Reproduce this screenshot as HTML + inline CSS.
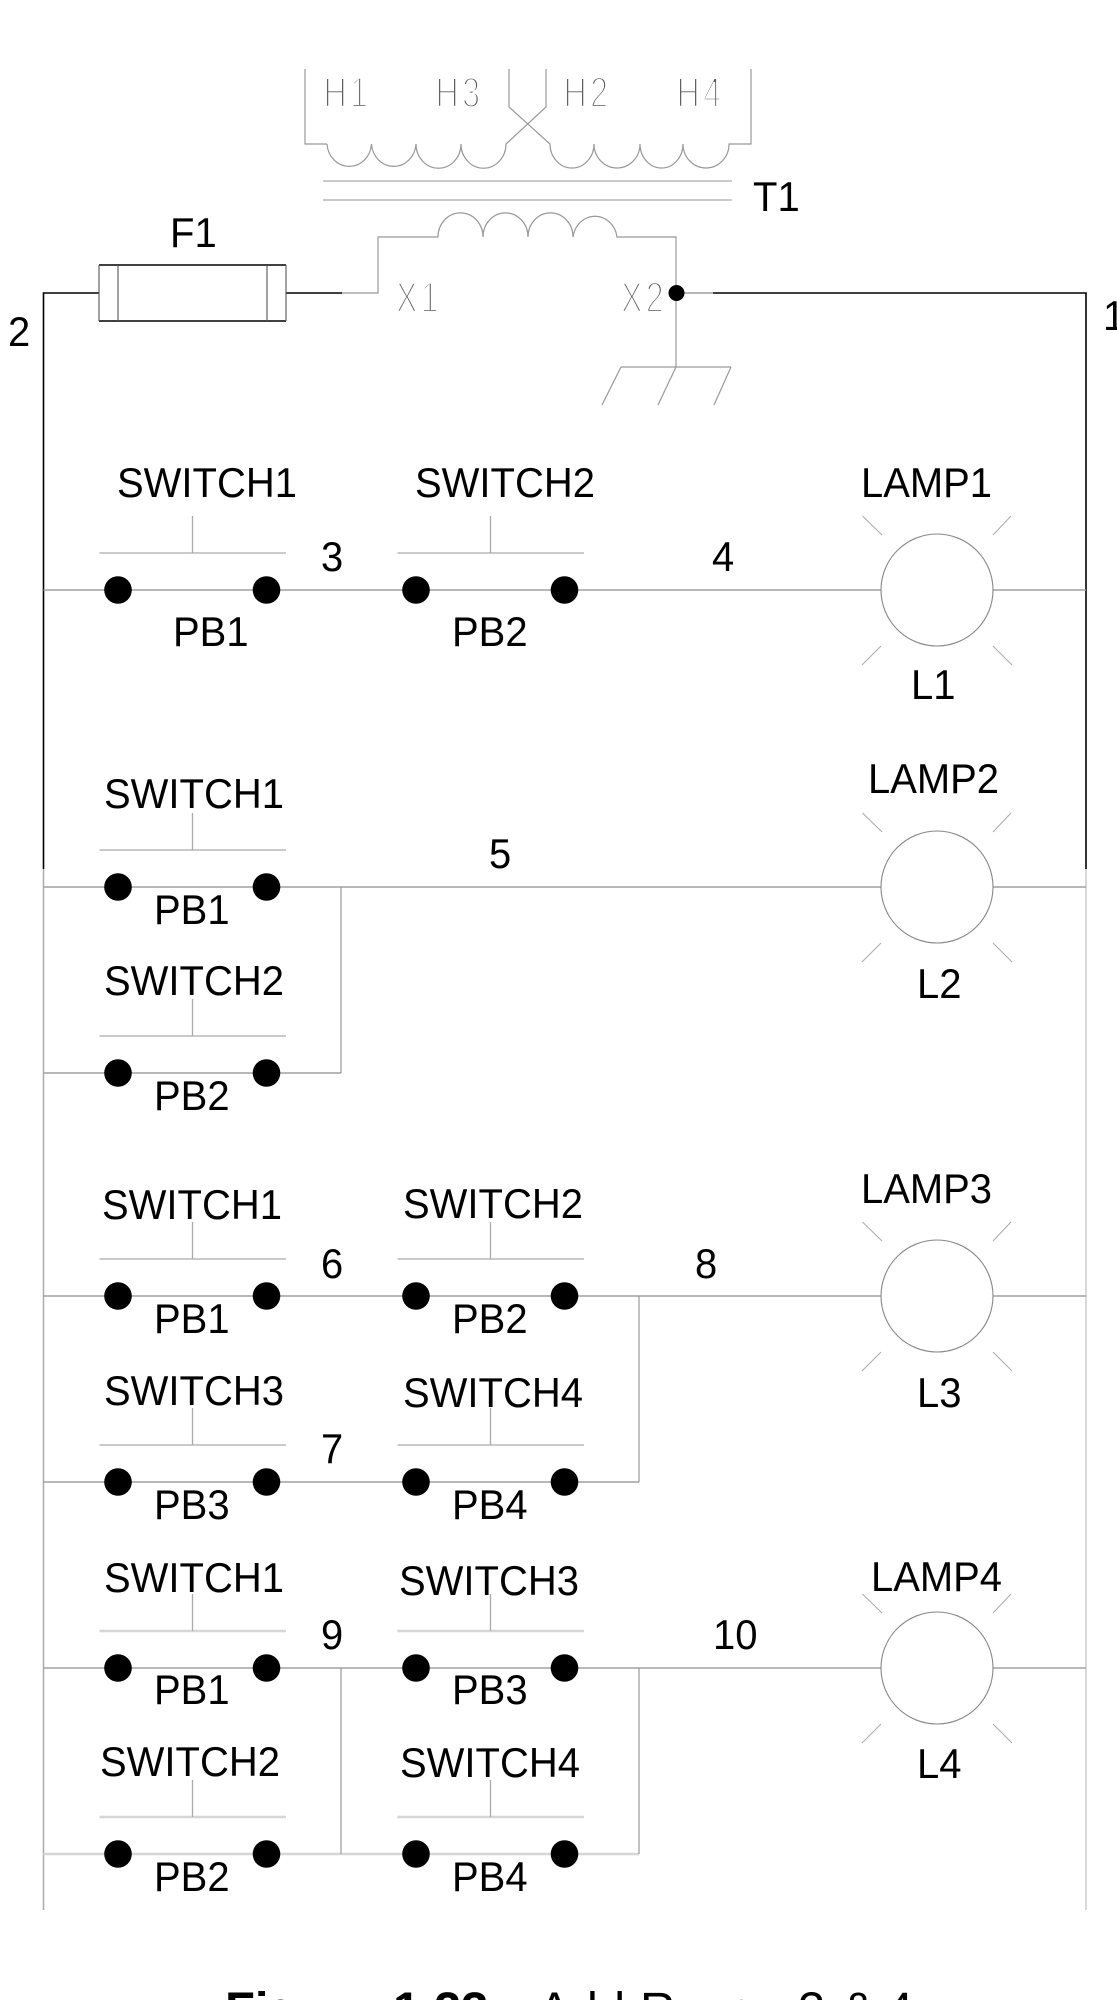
<!DOCTYPE html>
<html lang="en">
<head>
<meta charset="utf-8">
<title>Add Rungs 3 &amp; 4</title>
<style>
html,body{margin:0;padding:0;background:#fff;width:1117px;height:2000px;overflow:hidden}
svg{display:block}
text{font-family:"Liberation Sans",Arial,sans-serif;font-size:42px;fill:#000}
.thin{fill:#555;stroke:#fff;stroke-width:2.4px;font-size:43px;letter-spacing:4.4px}
.cap{font-size:49px}
.b{font-weight:bold}
.w{fill:none;stroke:#a0a0a0;stroke-width:1.4}
.l{fill:none;stroke:#aaa;stroke-width:1.3}
.r{fill:none;stroke:#aaa;stroke-width:1}
.lt{fill:none;stroke:#d6d6d6;stroke-width:2.4}
.k{fill:none;stroke:#000;stroke-width:1.6}
.c{fill:none;stroke:#999;stroke-width:1.2}
</style>
</head>
<body>
<svg xmlns="http://www.w3.org/2000/svg" width="1117" height="2000" viewBox="0 0 1117 2000">
<defs>
<g id="pb">
<circle cx="118" cy="0" r="13.800" fill="#000"/>
<circle cx="266.500" cy="0" r="13.800" fill="#000"/>
</g>
<g id="lamp">
<circle cx="937" cy="0" r="56" fill="#fff" stroke="#888" stroke-width="1.1"/>
<path class="r" d="M862.500 -74L882 -55M1011 -74L993 -55M881 56L862 75M993 56L1012 75"/>
</g>
</defs>

<!-- primary -->
<path class="c" d="M305 69V144H327"/>
<path class="c" d="M327 144A22.300 24 0 0 0 371.500 144A22.300 24 0 0 0 416 144A22.300 24 0 0 0 461 144A22.300 24 0 0 0 506 144L546 107V69"/>
<path class="c" d="M509 69V107L550 144A22 24 0 0 0 594 144A23 24 0 0 0 640 144A21.500 24 0 0 0 683 144A23 24 0 0 0 729 144H751V69"/>
<path class="l" d="M323 181H732M323 200H732"/>
<!-- secondary -->
<path class="c" d="M342 293H378V237H438A22.400 24 0 0 1 483 237A22.400 24 0 0 1 528 237A22.400 24 0 0 1 573 237A22.200 24 0 0 1 617 237H676V367"/>
<path class="c" d="M621 367H731M621 367L602 405M676 367L658 405M731 367L714 405"/>
<path class="w" d="M676 293H713"/>
<circle cx="676.500" cy="293" r="8" fill="#000"/>
<!-- fuse and black wires -->
<path class="k" d="M43.500 869V293H99M286 293H342M713 293H1086V869M99 265H286M99 321H286"/>
<path fill="none" stroke="#555" stroke-width="1.1" d="M99 265V321M118 265V321M267 265V321M286 265V321"/>

<!-- rails -->
<path fill="none" stroke="#aaa" stroke-width="1.5" d="M43.500 869V1910"/>
<path fill="none" stroke="#ccc" stroke-width="1.5" d="M1086 869V1910"/>

<!-- wires -->
<path class="w" d="M43.500 590H881M993 590H1086"/>
<path class="w" d="M43.500 887H881M993 887H1086M43.500 1073H341"/>
<path class="c" d="M341 887V1073"/>
<path class="w" d="M43.500 1296H881M993 1296H1086M43.500 1482H639"/>
<path class="c" d="M639 1296V1482"/>
<path class="w" d="M43.500 1668H881M993 1668H1086"/>
<path class="lt" d="M43.500 1854H639"/>
<path class="c" d="M341 1668V1854M639 1668V1854"/>

<!-- push-button bars -->
<path class="l" d="M99.500 553H286M397.500 553H584M99.500 850H286M99.500 1036H286M99.500 1259H286M397.500 1259H584M99.500 1445H286M397.500 1445H584"/>
<path class="lt" d="M99.500 1631H286M397.500 1631H584M99.500 1817H286M397.500 1817H584"/>
<!-- push-button stems -->
<path class="l" d="M192.500 516V553M490.500 516V553M192.500 813V850M192.500 999V1036M192.500 1222V1259M490.500 1222V1259M192.500 1408V1445M490.500 1408V1445M192.500 1594V1631M490.500 1594V1631M192.500 1780V1817M490.500 1780V1817"/>

<!-- contacts and lamps -->
<use href="#pb" x="0" y="590"/>
<use href="#pb" x="298" y="590"/>
<use href="#lamp" x="0" y="590"/>
<use href="#pb" x="0" y="887"/>
<use href="#pb" x="0" y="1073"/>
<use href="#lamp" x="0" y="887"/>
<use href="#pb" x="0" y="1296"/>
<use href="#pb" x="298" y="1296"/>
<use href="#pb" x="0" y="1482"/>
<use href="#pb" x="298" y="1482"/>
<use href="#lamp" x="0" y="1296"/>
<use href="#pb" x="0" y="1668"/>
<use href="#pb" x="298" y="1668"/>
<use href="#pb" x="0" y="1854"/>
<use href="#pb" x="298" y="1854"/>
<use href="#lamp" x="0" y="1668"/>

<!-- thin transformer labels -->
<g transform="translate(323.500 107) scale(.75 1)"><text class="thin">H1</text></g>
<g transform="translate(435.500 107) scale(.75 1)"><text class="thin">H3</text></g>
<g transform="translate(563.500 107) scale(.75 1)"><text class="thin">H2</text></g>
<g transform="translate(676.500 107) scale(.75 1)"><text class="thin">H4</text></g>
<g transform="translate(396 312) scale(.75 1)"><text class="thin">X1</text></g>
<g transform="translate(621 312) scale(.75 1)"><text class="thin">X2</text></g>

<!-- top labels -->
<text x="753" y="211" textLength="46.700" lengthAdjust="spacingAndGlyphs">T1</text>
<text x="170" y="247" textLength="46.700" lengthAdjust="spacingAndGlyphs">F1</text>
<text x="8" y="346" textLength="22.200" lengthAdjust="spacingAndGlyphs">2</text>
<text x="1103" y="330" textLength="22.200" lengthAdjust="spacingAndGlyphs">1</text>

<!-- rung 1 labels -->
<text x="117" y="497" textLength="180" lengthAdjust="spacingAndGlyphs">SWITCH1</text>
<text x="415" y="497" textLength="180" lengthAdjust="spacingAndGlyphs">SWITCH2</text>
<text x="861" y="497" textLength="131" lengthAdjust="spacingAndGlyphs">LAMP1</text>
<text x="321" y="571" textLength="22.200" lengthAdjust="spacingAndGlyphs">3</text>
<text x="712" y="571" textLength="22.200" lengthAdjust="spacingAndGlyphs">4</text>
<text x="173" y="646" textLength="75.600" lengthAdjust="spacingAndGlyphs">PB1</text>
<text x="452" y="646" textLength="75.600" lengthAdjust="spacingAndGlyphs">PB2</text>
<text x="911" y="699" textLength="44.500" lengthAdjust="spacingAndGlyphs">L1</text>

<!-- rung 2 labels -->
<text x="868" y="793" textLength="131" lengthAdjust="spacingAndGlyphs">LAMP2</text>
<text x="104" y="808" textLength="180" lengthAdjust="spacingAndGlyphs">SWITCH1</text>
<text x="489" y="868" textLength="22.200" lengthAdjust="spacingAndGlyphs">5</text>
<text x="154" y="924" textLength="75.600" lengthAdjust="spacingAndGlyphs">PB1</text>
<text x="104" y="995" textLength="180" lengthAdjust="spacingAndGlyphs">SWITCH2</text>
<text x="917" y="998" textLength="44.500" lengthAdjust="spacingAndGlyphs">L2</text>
<text x="154" y="1110" textLength="75.600" lengthAdjust="spacingAndGlyphs">PB2</text>

<!-- rung 3 labels -->
<text x="861" y="1203" textLength="131" lengthAdjust="spacingAndGlyphs">LAMP3</text>
<text x="102" y="1219" textLength="180" lengthAdjust="spacingAndGlyphs">SWITCH1</text>
<text x="403" y="1218" textLength="180" lengthAdjust="spacingAndGlyphs">SWITCH2</text>
<text x="321" y="1278" textLength="22.200" lengthAdjust="spacingAndGlyphs">6</text>
<text x="695" y="1278" textLength="22.200" lengthAdjust="spacingAndGlyphs">8</text>
<text x="154" y="1333" textLength="75.600" lengthAdjust="spacingAndGlyphs">PB1</text>
<text x="452" y="1333" textLength="75.600" lengthAdjust="spacingAndGlyphs">PB2</text>
<text x="104" y="1405" textLength="180" lengthAdjust="spacingAndGlyphs">SWITCH3</text>
<text x="403" y="1407" textLength="180" lengthAdjust="spacingAndGlyphs">SWITCH4</text>
<text x="917" y="1407" textLength="44.500" lengthAdjust="spacingAndGlyphs">L3</text>
<text x="321" y="1463" textLength="22.200" lengthAdjust="spacingAndGlyphs">7</text>
<text x="154" y="1519" textLength="75.600" lengthAdjust="spacingAndGlyphs">PB3</text>
<text x="452" y="1519" textLength="75.600" lengthAdjust="spacingAndGlyphs">PB4</text>

<!-- rung 4 labels -->
<text x="871" y="1591" textLength="131" lengthAdjust="spacingAndGlyphs">LAMP4</text>
<text x="104" y="1592" textLength="180" lengthAdjust="spacingAndGlyphs">SWITCH1</text>
<text x="399" y="1595" textLength="180" lengthAdjust="spacingAndGlyphs">SWITCH3</text>
<text x="321" y="1649" textLength="22.200" lengthAdjust="spacingAndGlyphs">9</text>
<text x="713" y="1649" textLength="44.500" lengthAdjust="spacingAndGlyphs">10</text>
<text x="154" y="1704" textLength="75.600" lengthAdjust="spacingAndGlyphs">PB1</text>
<text x="452" y="1704" textLength="75.600" lengthAdjust="spacingAndGlyphs">PB3</text>
<text x="100" y="1776" textLength="180" lengthAdjust="spacingAndGlyphs">SWITCH2</text>
<text x="400" y="1777" textLength="180" lengthAdjust="spacingAndGlyphs">SWITCH4</text>
<text x="917" y="1778" textLength="44.500" lengthAdjust="spacingAndGlyphs">L4</text>
<text x="154" y="1891" textLength="75.600" lengthAdjust="spacingAndGlyphs">PB2</text>
<text x="452" y="1891" textLength="75.600" lengthAdjust="spacingAndGlyphs">PB4</text>

<!-- caption (cropped at the bottom edge) -->
<text class="cap b" x="225" y="2026.500">Figure</text>
<text class="cap b" x="393" y="2026.500">1.23</text>
<text class="cap" x="538" y="2026.500">Add</text>
<text class="cap" x="640" y="2026.500">Rungs</text>
<text class="cap" x="798" y="2026.500">3</text>
<text class="cap" x="842" y="2026.500">&amp;</text>
<text class="cap" x="886" y="2026.500">4</text>
</svg>
</body>
</html>
